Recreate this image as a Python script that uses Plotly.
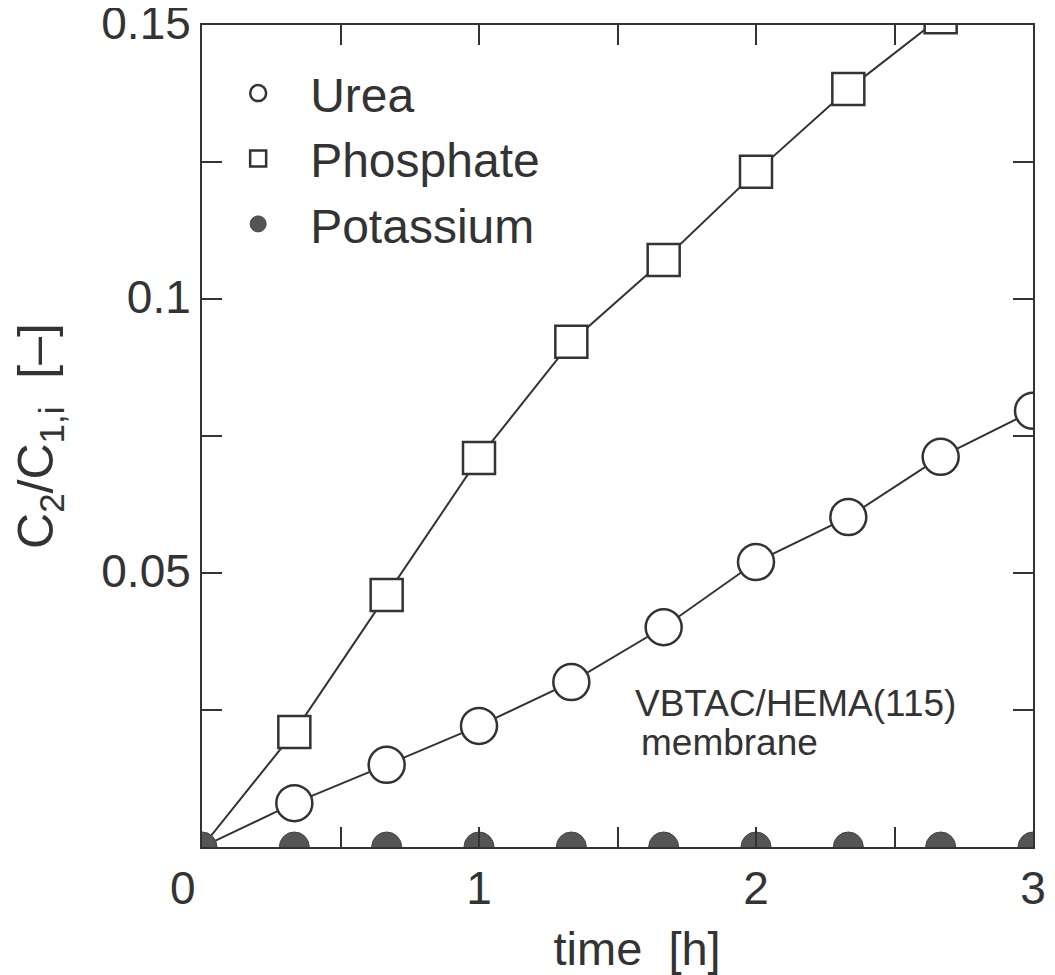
import plotly.graph_objects as go

time_h = [0.0, 1/3, 2/3, 1.0, 4/3, 5/3, 2.0, 7/3, 8/3, 3.0]
urea = [0.0, 0.0080, 0.0150, 0.0221, 0.0301, 0.0401, 0.0520, 0.0602, 0.0712, 0.0796]
phosphate = [0.0, 0.0210, 0.0460, 0.0710, 0.0922, 0.1071, 0.1232, 0.1383, 0.1514]
potassium = [0.0, 0.0, 0.0, 0.0, 0.0, 0.0, 0.0, 0.0, 0.0, 0.0]

x_tickvals = [0, 0.5, 1, 1.5, 2, 2.5, 3]
x_ticktext = ["0&nbsp;&nbsp;&nbsp;", "", "1", "", "2", "", "3"]
y_tickvals = [0, 0.025, 0.05, 0.075, 0.1, 0.125, 0.15]
y_ticktext = ["", "", "0.05", "", "0.1", "", "0.15"]

INK = "#333333"
FONT = "Liberation Sans, Arial, Helvetica, sans-serif"

fig = go.Figure()

# connecting lines (from origin)
fig.add_trace(go.Scatter(x=time_h[:len(phosphate)], y=phosphate, mode="lines",
                         line=dict(color=INK, width=2), showlegend=False, hoverinfo="skip"))
fig.add_trace(go.Scatter(x=time_h, y=urea, mode="lines",
                         line=dict(color=INK, width=2), showlegend=False, hoverinfo="skip"))

# markers
fig.add_trace(go.Scatter(x=time_h[1:], y=urea[1:], mode="markers", name="Urea",
                         marker=dict(symbol="circle", size=36, color="white",
                                     line=dict(color=INK, width=2.5))))
fig.add_trace(go.Scatter(x=time_h[1:len(phosphate)], y=phosphate[1:], mode="markers", name="Phosphate",
                         marker=dict(symbol="square", size=32, color="white",
                                     line=dict(color=INK, width=2.5))))
fig.add_trace(go.Scatter(x=time_h, y=potassium, mode="markers", name="Potassium",
                         marker=dict(symbol="circle", size=30, color="#555555",
                                     line=dict(color="#444444", width=1))))

fig.add_annotation(x=1.556, y=0.0261, xref="x", yref="y", xanchor="left", yanchor="middle",
                   showarrow=False, text="VBTAC/HEMA(115)",
                   font=dict(family=FONT, size=37, color=INK))
fig.add_annotation(x=1.578, y=0.0190, xref="x", yref="y", xanchor="left", yanchor="middle",
                   showarrow=False, text="membrane",
                   font=dict(family=FONT, size=37, color=INK))

axis_common = dict(showline=True, linewidth=2, linecolor=INK, mirror="ticks",
                   ticks="inside", ticklen=20, tickwidth=2, tickcolor=INK,
                   showgrid=False, zeroline=False, automargin=False,
                   ticklabeloverflow="allow",
                   tickfont=dict(family=FONT, size=46, color=INK))

fig.update_xaxes(range=[0, 3], tickmode="array", tickvals=x_tickvals, ticktext=x_ticktext,
                 title=dict(text="&nbsp;&nbsp;&nbsp;time  [h]",
                            font=dict(family=FONT, size=47, color=INK), standoff=26),
                 **axis_common)
fig.update_yaxes(range=[0, 0.15], tickmode="array", tickvals=y_tickvals, ticktext=y_ticktext,
                 ticklabelstandoff=0, ticklabelshift=-2,
                 title=dict(text="C<sub>2</sub>/C<sub>1,i</sub>  [–]",
                            font=dict(family=FONT, size=50, color=INK), standoff=32),
                 **axis_common)

fig.update_layout(
    template="none",
    width=1047, height=967, autosize=False,
    margin=dict(l=194, r=22, t=17, b=128),
    plot_bgcolor="white", paper_bgcolor="white",
    font=dict(family=FONT, color=INK),
    showlegend=True,
    legend=dict(x=0.005, y=0.963, xanchor="left", yanchor="top",
                bgcolor="rgba(0,0,0,0)", font=dict(family=FONT, size=48, color=INK),
                itemwidth=94, tracegroupgap=0),
)

fig.write_html("out.html")
